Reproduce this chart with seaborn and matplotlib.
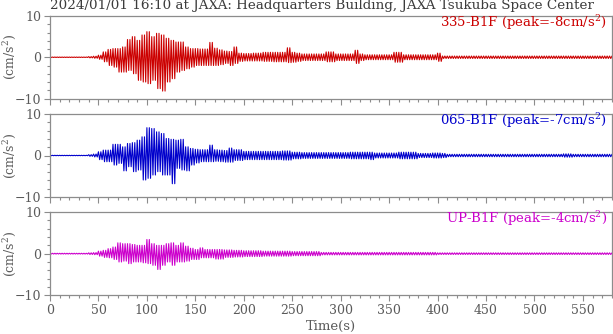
import numpy as np
import pandas as pd
import matplotlib
matplotlib.use("Agg")
import matplotlib.pyplot as plt
import seaborn as sns
from matplotlib.ticker import MultipleLocator

# Peak amplitudes (cm/s^2) of each record, held from one knot time (s) to the next:
# upper = largest positive swing, lower = largest negative swing in that span.
knots_335 = [0, 40, 45, 50, 55, 60, 65, 70, 75, 80, 85, 90, 95, 100, 105, 110, 115, 120,
             125, 130, 135, 140, 145, 150, 155, 165, 170, 175, 180, 185, 190, 195, 200, 210,
             220, 230, 240, 245, 250, 255, 260, 285, 295, 315, 320, 325, 355, 365, 400, 405]
upper_335 = [0.05, 0.15, 0.25, 0.5, 1.3, 1.9, 2.1, 2.1, 2.5, 4.3, 5.0, 4.1, 5.4, 6.2, 5.0, 5.8,
             5.4, 4.6, 4.1, 3.7, 3.7, 2.5, 2.1, 2.1, 2.0, 3.6, 2.2, 1.8, 1.5, 1.4, 2.5, 1.0,
             0.9, 1.0, 1.2, 1.2, 1.2, 2.3, 1.2, 1.0, 0.8, 1.3, 0.8, 1.7, 0.8, 0.6, 1.2, 0.6,
             1.0, 0.3]
lower_335 = [-0.05, -0.15, -0.25, -0.5, -1.1, -2.0, -2.4, -3.6, -3.6, -3.2, -4.0, -5.6, -6.0,
             -6.4, -5.6, -7.6, -8.2, -6.0, -5.2, -3.6, -3.2, -2.8, -2.4, -2.0, -2.0, -2.0, -2.0,
             -1.8, -1.5, -2.0, -1.5, -1.0, -0.9, -0.9, -1.0, -1.1, -1.1, -1.3, -1.2, -1.0, -0.8,
             -1.1, -0.8, -1.5, -0.8, -0.6, -1.2, -0.6, -1.0, -0.3]

knots_065 = [0, 40, 45, 50, 55, 65, 70, 75, 80, 85, 90, 95, 100, 105, 110, 115, 120, 125,
             130, 135, 140, 145, 150, 155, 165, 170, 175, 180, 185, 190, 200, 240, 250, 260,
             310, 330, 335, 360, 380, 395, 405, 410, 530, 540]
upper_065 = [0.05, 0.2, 0.35, 0.9, 1.3, 2.7, 2.7, 2.1, 2.9, 3.1, 3.7, 4.5, 6.7, 6.5, 5.7, 5.3,
             4.1, 3.9, 3.7, 3.9, 2.1, 1.7, 1.5, 1.4, 2.5, 1.4, 1.3, 1.2, 1.8, 1.4, 1.0, 1.1,
             0.8, 0.7, 0.8, 0.8, 0.6, 0.8, 0.5, 0.6, 0.5, 0.3, 0.4, 0.3]
lower_065 = [-0.05, -0.2, -0.35, -1.0, -1.5, -2.3, -1.9, -3.7, -2.7, -3.9, -3.5, -5.9, -5.5,
             -4.7, -3.9, -4.7, -4.7, -6.8, -3.1, -3.5, -3.7, -2.3, -1.8, -1.5, -1.5, -1.4,
             -1.5, -1.6, -1.6, -1.2, -1.0, -1.1, -0.8, -0.7, -0.8, -1.0, -0.6, -0.8, -0.5,
             -0.6, -0.5, -0.3, -0.4, -0.3]

knots_up = [0, 40, 45, 50, 55, 60, 65, 70, 75, 80, 85, 90, 95, 100, 105, 110, 115, 120, 125,
            130, 135, 140, 145, 150, 155, 160, 170, 180, 190, 200, 220, 250, 280, 400]
upper_up = [0.1, 0.2, 0.25, 0.6, 0.8, 1.2, 1.6, 2.6, 2.4, 2.4, 2.2, 2.0, 2.0, 3.4, 2.4, 2.0,
            2.0, 2.4, 2.6, 2.0, 2.6, 1.8, 1.3, 1.0, 1.4, 1.0, 1.0, 0.9, 0.8, 0.7, 0.6, 0.5,
            0.3, 0.2]
lower_up = [-0.1, -0.2, -0.25, -0.6, -0.9, -1.0, -1.4, -2.0, -1.8, -2.4, -2.0, -2.0, -2.2,
            -2.4, -2.8, -3.8, -2.8, -2.0, -2.8, -2.0, -2.0, -1.8, -1.4, -1.4, -1.0, -1.0,
            -1.3, -0.9, -0.8, -0.7, -0.6, -0.5, -0.3, -0.2]

components = ["335-B1F", "065-B1F", "UP-B1F"]
colors = ["#cc0000", "#0000cc", "#cc00cc"]
records = [(knots_335, upper_335, lower_335),
           (knots_065, upper_065, lower_065),
           (knots_up, upper_up, lower_up)]

title = "2024/01/01 16:10 at JAXA: Headquarters Building, JAXA Tsukuba Space Center"
t_end = 580
step = 1.25  # seconds between successive positive and negative swings

sns.set_theme(style="ticks")
plt.rcParams["font.family"] = ["DejaVu Serif"]
plt.rcParams["mathtext.fontset"] = "dejavuserif"

gray = "#5a5a5a"
spine = "#8c8c8c"

fig = plt.figure(figsize=(6.13, 3.34), dpi=100)
W, H = 613, 334
panel_px = [(16, 98.5), (114, 197), (212, 295.3)]  # top, bottom in pixels


def trace(knots, upper, lower):
    """Swing alternately to the positive and negative peak of each span."""
    n = np.arange(0, int(t_end / step) + 1)
    t = n * step
    k = np.searchsorted(knots, t, side="right") - 1
    up = np.asarray(upper)[k]
    lo = np.asarray(lower)[k]
    acc = np.where(n % 2 == 0, up, lo)
    return pd.DataFrame({"time": t, "acc": acc})


for i, (name, col, (kn, up, lo)) in enumerate(zip(components, colors, records)):
    top, bot = panel_px[i]
    ax = fig.add_axes([50 / W, (H - bot) / H, 562 / W, (bot - top) / H])
    df = trace(kn, up, lo)
    sns.lineplot(data=df, x="time", y="acc", ax=ax, color=col, linewidth=0.8,
                 estimator=None, sort=False)
    ax.set_xlim(0, t_end)
    ax.set_ylim(-10, 10)
    ax.xaxis.set_major_locator(MultipleLocator(50))
    ax.xaxis.set_minor_locator(MultipleLocator(10))
    ax.yaxis.set_major_locator(MultipleLocator(10))
    ax.yaxis.set_minor_locator(MultipleLocator(2))
    ax.tick_params(which="both", direction="out", color=spine, width=0.8,
                   labelcolor=gray, labelsize=9)
    ax.tick_params(which="major", length=4.5, pad=2)
    ax.tick_params(which="minor", length=2.5)
    for s in ax.spines.values():
        s.set_visible(True)
        s.set_color(spine)
        s.set_linewidth(0.9)
    ax.set_ylabel(r"(cm/s$^{2}$)", color=gray, fontsize=9)
    ax.yaxis.label.set_verticalalignment("center")
    ax.yaxis.set_label_coords(-40 / 562, 0.5)
    if i < 2:
        ax.set_xlabel("")
        ax.tick_params(axis="x", labelbottom=False)
    else:
        ax.set_xlabel("Time(s)", color=gray, fontsize=9.5, labelpad=2)

    peak_idx = int(np.argmax(np.abs(df["acc"].values)))
    peak = int(round(df["acc"].values[peak_idx]))
    ax.text(0.991, 0.865, f"{name} (peak={peak}cm/s$^{{2}}$)", transform=ax.transAxes,
            ha="right", va="baseline", color=col, fontsize=9.5)

fig.text(50 / W, 1 - 9.5 / H, title, ha="left", va="baseline", color="#3c3c3c", fontsize=9.7)

fig.savefig("out.png", dpi=100)
